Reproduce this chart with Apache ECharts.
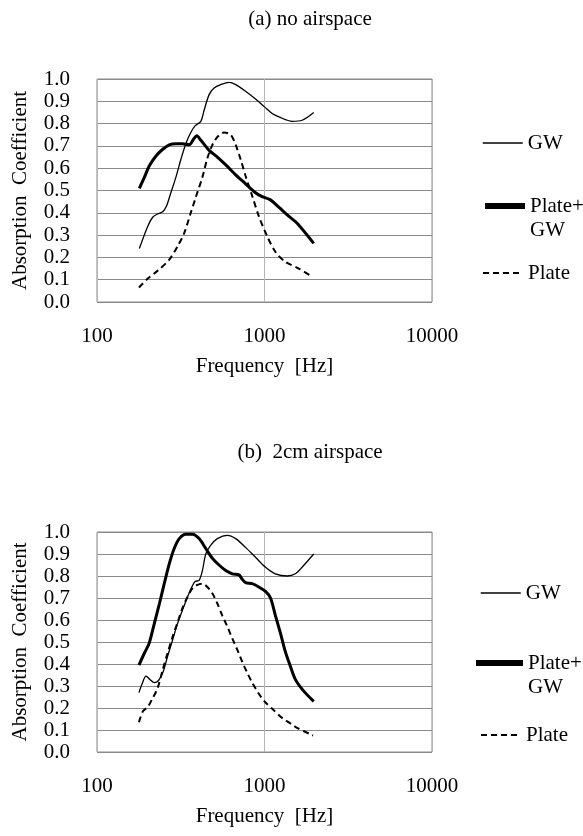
<!DOCTYPE html>
<html>
<head>
<meta charset="utf-8">
<script src="https://cdn.jsdelivr.net/npm/echarts@6/dist/echarts.min.js"></script>
<style>
html,body{margin:0;padding:0;background:#fff;}
#chart{width:583px;height:836px;}
</style>
</head>
<body>
<div id="chart"></div>
<script>
// ---- data ----
const xTicks = [100, 1000, 10000];
const yTicks = [0.0, 0.1, 0.2, 0.3, 0.4, 0.5, 0.6, 0.7, 0.8, 0.9, 1.0];
const titles = ['(a) no airspace', '(b)  2cm airspace'];
const seriesNames = ['GW', 'Plate+GW', 'Plate'];

// (a) no airspace
const aGW_f = [179,201,215,230,247,260,276,296,317,339,363,385,417,436,467,500,548,614,673,771,884,1000,1111,1220,1462,1677,1967];
const aGW_v = [0.24,0.34,0.38,0.395,0.405,0.43,0.49,0.56,0.64,0.71,0.76,0.79,0.81,0.86,0.93,0.96,0.975,0.985,0.975,0.945,0.91,0.875,0.845,0.83,0.81,0.815,0.85];
const aPGW_f = [179,192,205,225,247,270,296,324,355,377,394,417,467,523,587,673,771,884,968,1086,1217,1395,1566,1967];
const aPGW_v = [0.51,0.56,0.61,0.655,0.685,0.705,0.71,0.71,0.705,0.73,0.745,0.725,0.68,0.65,0.615,0.57,0.53,0.49,0.473,0.458,0.425,0.385,0.353,0.263];
const aP_f = [178,201,230,270,303,332,363,389,426,456,489,523,573,628,673,720,771,845,925,1037,1162,1333,1603,1906];
const aP_v = [0.065,0.105,0.14,0.19,0.25,0.31,0.40,0.47,0.56,0.645,0.705,0.74,0.76,0.75,0.705,0.64,0.565,0.475,0.385,0.295,0.225,0.18,0.15,0.115];

// (b) 2cm airspace
const bGW_f = [178,186,196,207,220,233,247,264,283,303,324,347,368,385,407,426,446,478,523,600,673,771,884,1014,1162,1366,1528,1677,1967];
const bGW_v = [0.27,0.31,0.345,0.33,0.315,0.325,0.36,0.435,0.51,0.585,0.645,0.705,0.75,0.775,0.78,0.825,0.90,0.94,0.97,0.985,0.97,0.93,0.885,0.84,0.81,0.80,0.81,0.84,0.90];
const bPGW_f = [178,192,205,220,236,252,270,289,310,339,372,407,446,489,535,587,643,704,736,771,845,925,1014,1086,1162,1245,1333,1427,1528,1700,1967];
const bPGW_v = [0.395,0.45,0.495,0.585,0.675,0.765,0.855,0.925,0.97,0.99,0.99,0.97,0.925,0.88,0.85,0.825,0.81,0.805,0.785,0.77,0.765,0.75,0.73,0.70,0.62,0.54,0.455,0.39,0.33,0.28,0.23];
const bP_f = [178,188,201,215,230,247,264,283,303,324,347,372,398,426,456,489,523,560,600,643,688,736,789,845,925,1014,1136,1273,1427,1563,1950];
const bP_v = [0.135,0.185,0.205,0.245,0.29,0.375,0.45,0.525,0.59,0.655,0.705,0.745,0.76,0.765,0.75,0.72,0.675,0.62,0.57,0.515,0.465,0.41,0.36,0.315,0.265,0.225,0.19,0.155,0.13,0.11,0.075];

// ---- build ----
const FONT = 'Liberation Serif';
const zip = (f, v) => f.map((x, i) => [x, v[i]]);
const lineStyles = [
  {color:'#000', width:1.3, type:'solid'},
  {color:'#000', width:3, type:'solid'},
  {color:'#000', width:2, type:[6,4]}
];
const dataSets = [
  [zip(aGW_f,aGW_v), zip(aPGW_f,aPGW_v), zip(aP_f,aP_v)],
  [zip(bGW_f,bGW_v), zip(bPGW_f,bPGW_v), zip(bP_f,bP_v)]
];
const grids = [
  {left:97, top:79, width:335, height:223},
  {left:97, top:532, width:335, height:220}
];

const option = {
  backgroundColor:'#fff',
  animation:false,
  title: [
    {text:titles[0], left:310, top:9, textAlign:'center', padding:0,
     textStyle:{fontFamily:FONT, fontSize:21, fontWeight:'normal', color:'#000'}},
    {text:titles[1], left:310, top:442, textAlign:'center', padding:0,
     textStyle:{fontFamily:FONT, fontSize:21, fontWeight:'normal', color:'#000'}}
  ],
  grid: grids.map(g => Object.assign({show:true, borderColor:'#8a8a8a', borderWidth:1, backgroundColor:'transparent'}, g)),
  xAxis: [0,1].map(i => ({
    type:'log', logBase:10, gridIndex:i, min:xTicks[0], max:xTicks[xTicks.length-1],
    name:'Frequency  [Hz]', nameLocation:'middle', nameGap:54,
    nameTextStyle:{fontFamily:FONT, fontSize:21, color:'#000'},
    axisLine:{show:false}, axisTick:{show:false},
    axisLabel:{fontFamily:FONT, fontSize:21, color:'#000', margin:24,
      formatter: v => String(Math.round(v))},
    splitLine:{show:true, lineStyle:{color:'#b5b5b5', width:1}}
  })),
  yAxis: [0,1].map(i => ({
    type:'value', gridIndex:i, min:yTicks[0], max:yTicks[yTicks.length-1], interval:0.1,
    name:'Absorption  Coefficient', nameLocation:'middle', nameRotate:90, nameGap:66,
    nameTextStyle:{fontFamily:FONT, fontSize:21, color:'#000'},
    axisLine:{show:false}, axisTick:{show:false},
    axisLabel:{fontFamily:FONT, fontSize:21, color:'#000', margin:27, padding:[6,0,0,0],
      formatter: v => v.toFixed(1)},
    splitLine:{show:true, lineStyle:{color:'#8a8a8a', width:1}}
  })),
  legend: [],
  series: []
};

const legendTops = [[131, 170, 261], [581, 627, 723]];
const legendLefts = [[482, 482, 482], [480, 473, 480]];
const legendWidths = [[40, 40, 40], [40, 47, 40]];
[0,1].forEach(c => {
  seriesNames.forEach((name, s) => {
    option.series.push({
      type:'line', name:name, xAxisIndex:c, yAxisIndex:c,
      data:dataSets[c][s], symbol:'none', showSymbol:false, smooth:0.3,
      lineStyle:lineStyles[s], itemStyle:{color:'#000'}
    });
    option.legend.push({
      data:[name], orient:'vertical', left:legendLefts[c][s], top:legendTops[c][s],
      padding:0, itemWidth:legendWidths[c][s], itemHeight:14, itemGap:0,
      selectedMode:false,
      itemStyle:{opacity:0, borderWidth:0},
      lineStyle: s === 1 ? {width:6, opacity:1} : (s === 0 ? {width:1.5, opacity:1} : {width:2, opacity:1}),
      formatter: n => n === 'Plate+GW' ? ' \nPlate+\nGW' : n,
      textStyle:{fontFamily:FONT, fontSize:21, color:'#000', lineHeight:24}
    });
  });
});

const chart = echarts.init(document.getElementById('chart'), null, {renderer:'canvas'});
chart.setOption(option);
</script>
</body>
</html>
